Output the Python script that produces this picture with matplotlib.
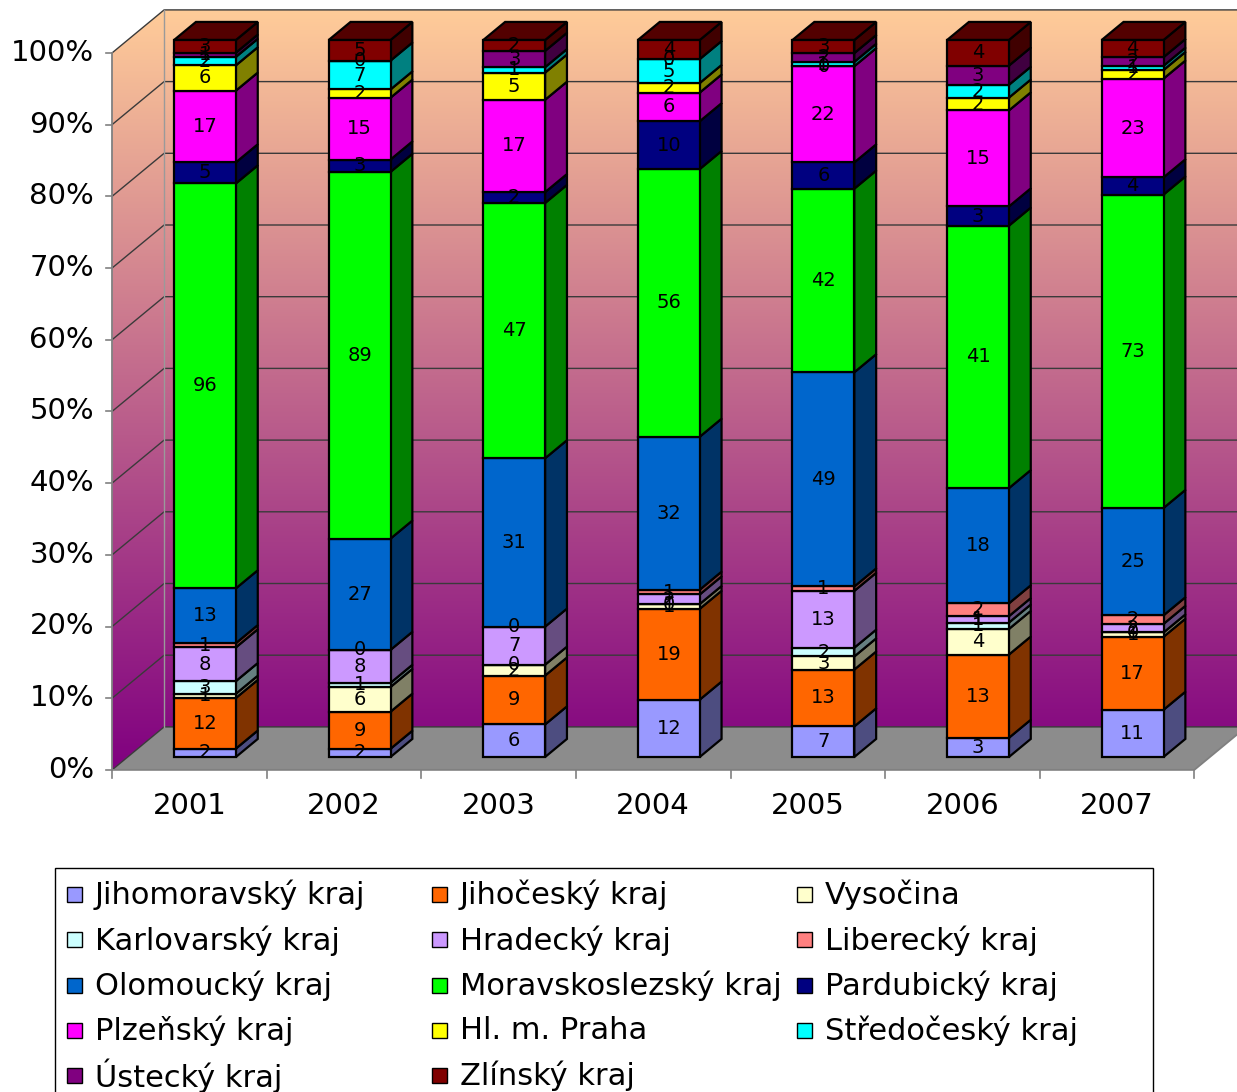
import numpy as np
import matplotlib.pyplot as plt
from matplotlib.patches import Polygon, Rectangle

years = ['2001', '2002', '2003', '2004', '2005', '2006', '2007']
regions = ['Jihomoravský kraj', 'Jihočeský kraj', 'Vysočina',
           'Karlovarský kraj', 'Hradecký kraj', 'Liberecký kraj',
           'Olomoucký kraj', 'Moravskoslezský kraj', 'Pardubický kraj',
           'Plzeňský kraj', 'Hl. m. Praha', 'Středočeský kraj',
           'Ústecký kraj', 'Zlínský kraj']
colors = ['#9999FF', '#FF6600', '#FFFFCC', '#CCFFFF', '#CC99FF', '#FF8080',
          '#0066CC', '#00FF00', '#000080', '#FF00FF', '#FFFF00', '#00FFFF',
          '#800080', '#800000']

# counts per year, stacked bottom to top
jihomoravsky = [2, 2, 6, 12, 7, 3, 11]
jihocesky = [12, 9, 9, 19, 13, 13, 17]
vysocina = [1, 6, 2, 1, 3, 4, 1]
karlovarsky = [3, 1, 0, 0, 2, 1, 0]
hradecky = [8, 8, 7, 2, 13, 1, 2]
liberecky = [1, 0, 0, 1, 1, 2, 2]
olomoucky = [13, 27, 31, 32, 49, 18, 25]
moravskoslezsky = [96, 89, 47, 56, 42, 41, 73]
pardubicky = [5, 3, 2, 10, 6, 3, 4]
plzensky = [17, 15, 17, 6, 22, 15, 23]
praha = [6, 2, 5, 2, 0, 2, 2]
stredocesky = [2, 7, 1, 5, 1, 2, 1]
ustecky = [1, 0, 3, 0, 2, 3, 2]
zlinsky = [3, 5, 2, 4, 3, 4, 4]

series = [jihomoravsky, jihocesky, vysocina, karlovarsky, hradecky, liberecky,
          olomoucky, moravskoslezsky, pardubicky, plzensky, praha, stredocesky,
          ustecky, zlinsky]

plt.rcParams['font.family'] = 'DejaVu Sans'

W, H = 1237, 1092
fig = plt.figure(figsize=(W / 100, H / 100), dpi=100)
ax = fig.add_axes([0, 0, 1, 1])
PXC = 154.6   # pixels per category
PXP = 7.17    # pixels per percent
X0 = 205.0
Y0 = 757.0
ax.set_xlim(-X0 / PXC, (W - X0) / PXC)
ax.set_ylim((Y0 - H) / PXP, Y0 / PXP)
ax.axis('off')

# oblique depth: z=0 front of walls, z=1 back wall
Z0 = 0.3
ZB = 0.42
DX, DY = 52 / PXC, 43 / PXP


def proj(x, p, z):
    return (x + (z - Z0) * DX, p + (z - Z0) * DY)


n = len(years)
xl, xr = -0.5, n - 0.5

# wall gradient
top_c = np.array([255, 204, 153]) / 255
bot_c = np.array([128, 0, 128]) / 255
ylo = proj(0, 0, 0)[1]
yhi = proj(0, 100, 1)[1]
t = np.linspace(0, 1, 256)[:, None]
grad = (bot_c[None, :] * (1 - t) + top_c[None, :] * t)[:, None, :]

back = Polygon([proj(xl, 0, 1), proj(xr, 0, 1), proj(xr, 100, 1), proj(xl, 100, 1)],
               closed=True, facecolor='none', edgecolor='none')
left = Polygon([proj(xl, 0, 0), proj(xl, 0, 1), proj(xl, 100, 1), proj(xl, 100, 0)],
               closed=True, facecolor='none', edgecolor='none')
for wall in (back, left):
    ax.add_patch(wall)
    im = ax.imshow(grad, extent=(proj(xl, 0, 0)[0], proj(xr, 0, 1)[0], ylo, yhi),
                   origin='lower', aspect='auto', zorder=0)
    im.set_clip_path(wall)

floor = Polygon([proj(xl, 0, 0), proj(xr, 0, 0), proj(xr, 0, 1), proj(xl, 0, 1)],
                closed=True, facecolor='#8c8c8c', edgecolor='none', zorder=1)
ax.add_patch(floor)

# gridlines across left and back walls
for p in range(0, 101, 10):
    a, b, c = proj(xl, p, 0), proj(xl, p, 1), proj(xr, p, 1)
    ax.plot([a[0], b[0], c[0]], [a[1], b[1], c[1]], color='#3a3a3a', lw=1.0, zorder=2)
    ax.plot([a[0], a[0] - 6 / PXC], [a[1], a[1]], color='#808080', lw=1.2, zorder=2)
    ax.text(a[0] - 18 / PXC, a[1], f'{p}%', ha='right', va='center', fontsize=21)

# axis lines and back corner
a, b = proj(xl, 0, 0), proj(xl, 100, 0)
ax.plot([a[0], b[0]], [a[1], b[1]], color='#808080', lw=1.3, zorder=2)
a, b = proj(xl, 0, 1), proj(xl, 100, 1)
ax.plot([a[0], b[0]], [a[1], b[1]], color='#9a9a9a', lw=1.0, zorder=2)
a, b, c = proj(xl, 0, 0), proj(xr, 0, 0), proj(xr, 0, 1)
ax.plot([a[0], b[0], c[0]], [a[1], b[1], c[1]], color='#808080', lw=1.3, zorder=2)
for i in range(n + 1):
    q = proj(xl + i, 0, 0)
    ax.plot([q[0], q[0]], [q[1], q[1] - 8 / PXP], color='#808080', lw=1.2, zorder=2)

for i, yr in enumerate(years):
    q = proj(i, 0, 0)
    ax.text(q[0], q[1] - 36 / PXP, yr, ha='center', va='center', fontsize=21)

# stacked bars
vals = np.array(series, dtype=float)
pct = vals / vals.sum(axis=0) * 100
bottoms = np.vstack([np.zeros(n), np.cumsum(pct, axis=0)[:-1]])
bw = 0.4
dbx, dby = ZB * DX, ZB * DY


def shade(col, f):
    r, g, b_ = plt.matplotlib.colors.to_rgb(col)
    return (r * f, g * f, b_ * f)


x = np.arange(n)
for k in range(len(series)):
    for i in range(n):
        b0 = bottoms[k, i]
        b1 = b0 + pct[k, i]
        if pct[k, i] > 0:
            ax.add_patch(Polygon([(i + bw / 2, b0), (i + bw / 2 + dbx, b0 + dby),
                                  (i + bw / 2 + dbx, b1 + dby), (i + bw / 2, b1)],
                                 closed=True, facecolor=shade(colors[k], 0.5),
                                 edgecolor='black', lw=1.6, zorder=3))
    ax.bar(x, pct[k], bottom=bottoms[k], width=bw, color=colors[k],
           edgecolor='black', lw=1.6, zorder=4)

for i in range(n):
    ax.add_patch(Polygon([(i - bw / 2, 100), (i + bw / 2, 100),
                          (i + bw / 2 + dbx, 100 + dby), (i - bw / 2 + dbx, 100 + dby)],
                         closed=True, facecolor=shade(colors[-1], 0.65),
                         edgecolor='black', lw=1.6, zorder=3))

for k in range(len(series)):
    for i in range(n):
        ax.text(i, bottoms[k, i] + pct[k, i] / 2, str(series[k][i]),
                ha='center', va='center', fontsize=14, zorder=5)

# legend, three columns filled row by row
lax = fig.add_axes([0, 0, 1, 1], zorder=10)
lax.set_xlim(0, W)
lax.set_ylim(H, 0)
lax.axis('off')
lax.patch.set_alpha(0)
lax.add_patch(Rectangle((55, 868), 1098, 300, facecolor='white',
                        edgecolor='black', lw=1.0))
for k, name in enumerate(regions):
    row, col = divmod(k, 3)
    cx = 67 + col * 365
    cy = 895 + row * 45.25
    lax.add_patch(Rectangle((cx, cy - 8), 15, 15, facecolor=colors[k],
                            edgecolor='black', lw=1.0))
    lax.text(cx + 28, cy, name, ha='left', va='center', fontsize=22)

fig.savefig('out.png', dpi=100)
